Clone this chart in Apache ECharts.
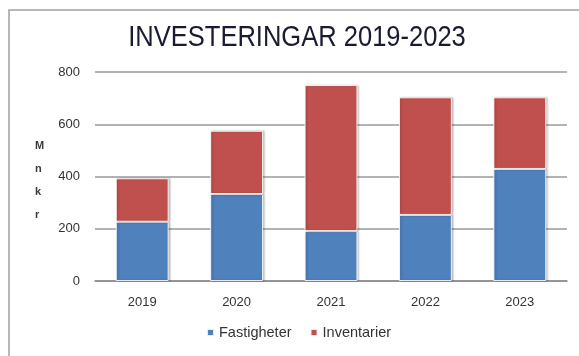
<!DOCTYPE html>
<html>
<head>
<meta charset="utf-8">
<script src="https://cdn.jsdelivr.net/npm/echarts@6/dist/echarts.min.js"></script>
<style>
  html, body { margin: 0; padding: 0; background: #fff; }
  #chart { width: 579px; height: 356px; }
</style>
</head>
<body>
<div id="chart"></div>
<script>
// Investments per year, in million kronor
const years = ['2019', '2020', '2021', '2022', '2023'];
const fastigheter = [227, 333, 191, 253, 429];
const inventarier = [166, 242, 559, 450, 274];
const yTicks = { min: 0, max: 800, interval: 200 };

const chart = echarts.init(document.getElementById('chart'));

const barStyle = (color) => ({
  color: color,
  borderColor: 'rgba(255,255,255,0.85)',
  borderWidth: 1,
  shadowColor: 'rgba(0,0,0,0.25)',
  shadowBlur: 2,
  shadowOffsetX: 1.5,
  shadowOffsetY: 0
});

const labelFont = 'Liberation Sans, Arial';

chart.setOption({
  animation: false,
  graphic: [
    {
      type: 'rect',
      shape: { x: 9, y: 10, width: 640, height: 400 },
      style: { fill: 'none', stroke: '#a0a0a0', lineWidth: 1.5 },
      silent: true
    },
    {
      // narrow title lettering
      type: 'text',
      x: 297,
      y: 38,
      scaleX: 0.88,
      style: {
        text: 'INVESTERINGAR 2019-2023',
        fontFamily: labelFont,
        fontSize: 29,
        align: 'center',
        verticalAlign: 'middle',
        fill: '#1a1a33'
      }
    },
    {
      type: 'text',
      left: 35,
      top: 134,
      style: {
        text: 'M\nn\nk\nr',
        fontFamily: labelFont,
        fontWeight: 'bold',
        fontSize: 11,
        lineHeight: 23,
        align: 'center',
        fill: '#3a3a3a'
      }
    }
  ],
  legend: {
    bottom: 11,
    left: 201,
    itemWidth: 7,
    itemHeight: 7,
    itemGap: 18,
    icon: 'rect',
    textStyle: {
      fontFamily: labelFont,
      fontSize: 14.5,
      color: '#333'
    },
    data: ['Fastigheter', 'Inventarier']
  },
  grid: { left: 95, right: 12, top: 72, bottom: 75 },
  xAxis: {
    type: 'category',
    data: years,
    axisLine: { lineStyle: { color: '#8c8c8c', width: 1.5 } },
    axisTick: { show: false },
    axisLabel: {
      margin: 15,
      fontFamily: labelFont,
      fontSize: 13,
      color: '#333'
    }
  },
  yAxis: {
    type: 'value',
    min: yTicks.min,
    max: yTicks.max,
    interval: yTicks.interval,
    axisLine: { show: false },
    axisTick: { show: false },
    axisLabel: {
      margin: 15,
      fontFamily: labelFont,
      fontSize: 13,
      color: '#333'
    },
    splitLine: { lineStyle: { color: '#9a9a9a', width: 1.5 } }
  },
  series: [
    {
      name: 'Fastigheter',
      type: 'bar',
      stack: 'total',
      barWidth: '56%',
      data: fastigheter,
      itemStyle: barStyle('#4f81bd')
    },
    {
      name: 'Inventarier',
      type: 'bar',
      stack: 'total',
      barWidth: '56%',
      data: inventarier,
      itemStyle: barStyle('#c0504d')
    }
  ]
});
</script>
</body>
</html>
